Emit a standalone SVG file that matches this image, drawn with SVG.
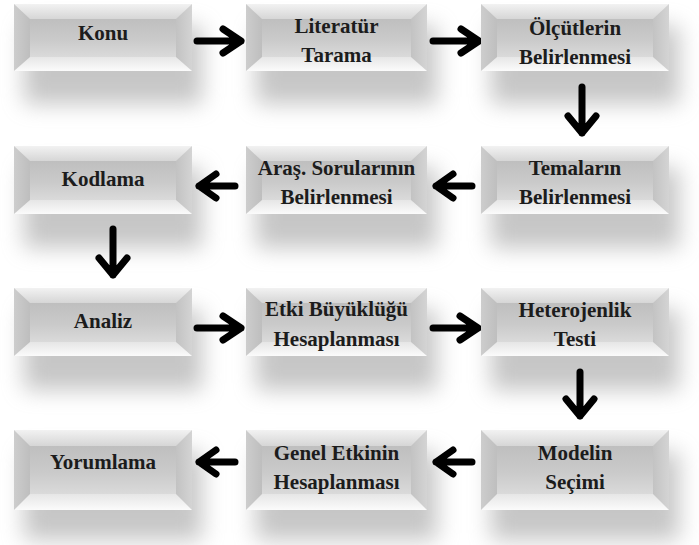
<svg xmlns="http://www.w3.org/2000/svg" width="699" height="545" viewBox="0 0 699 545">
<defs>
<filter id="sh" x="-30%" y="-40%" width="160%" height="180%"><feGaussianBlur stdDeviation="11"/></filter>
<linearGradient id="face" x1="0" y1="0" x2="0" y2="1"><stop offset="0" stop-color="#bfbfbf"/><stop offset="0.55" stop-color="#cacaca"/><stop offset="1" stop-color="#dadada"/></linearGradient>
<linearGradient id="lr" x1="0" y1="0" x2="1" y2="0"><stop offset="0" stop-color="#cdcdcd"/><stop offset="0.1" stop-color="#bcbcbc"/><stop offset="0.9" stop-color="#c0c0c0"/><stop offset="1" stop-color="#d4d4d4"/></linearGradient>
<linearGradient id="top" x1="0" y1="0" x2="0" y2="1"><stop offset="0" stop-color="#f2f2f2"/><stop offset="1" stop-color="#d6d6d6"/></linearGradient>
<linearGradient id="bot" x1="0" y1="0" x2="0" y2="1"><stop offset="0" stop-color="#e6e6e6"/><stop offset="1" stop-color="#fbfbfb"/></linearGradient>
</defs>
<style>
.shadow{fill:#8e8e8e;opacity:0.5;filter:url(#sh)}
.outer{fill:url(#lr)}
.tb{fill:url(#top)}
.bb{fill:url(#bot)}
.face{fill:url(#face)}
text{font-family:"Liberation Serif","Times New Roman",serif;font-weight:bold;font-size:21px;fill:#1c1c1c;text-anchor:middle}
.arr{fill:none;stroke:#000;stroke-width:7;stroke-linecap:round;stroke-linejoin:round}
</style>
<rect width="699" height="545" fill="#ffffff"/>

<g id="shadows">
<rect class="shadow" x="24" y="26" width="178" height="78"/>
<rect class="shadow" x="256" y="26" width="181" height="78"/>
<rect class="shadow" x="491" y="26" width="188" height="78"/>
<rect class="shadow" x="24" y="168" width="178" height="80"/>
<rect class="shadow" x="256" y="168" width="181" height="80"/>
<rect class="shadow" x="491" y="168" width="188" height="80"/>
<rect class="shadow" x="24" y="310" width="178" height="80"/>
<rect class="shadow" x="256" y="310" width="181" height="80"/>
<rect class="shadow" x="491" y="310" width="188" height="80"/>
<rect class="shadow" x="24" y="452" width="178" height="88"/>
<rect class="shadow" x="256" y="452" width="181" height="88"/>
<rect class="shadow" x="491" y="452" width="188" height="88"/>
</g>

<g id="connectors">
<path class="arr" d="M197 41H241M223 29L241 41L223 53"/>
<path class="arr" d="M433 41H479M461 29L479 41L461 53"/>
<path class="arr" d="M582 87V133M568 116L582 133L596 116"/>
<path class="arr" d="M472 186H436M453 174L436 186L453 198"/>
<path class="arr" d="M235 186H199M216 174L199 186L216 198"/>
<path class="arr" d="M113 229V275M99 258L113 275L127 258"/>
<path class="arr" d="M197 328H241M223 316L241 328L223 340"/>
<path class="arr" d="M433 328H478M460 316L478 328L460 340"/>
<path class="arr" d="M580 372V416M566 399L580 416L594 399"/>
<path class="arr" d="M472 462H436M453 450L436 462L453 474"/>
<path class="arr" d="M235 462H199M216 450L199 462L216 474"/>
</g>

<g id="konu">
<rect class="outer" x="14" y="4" width="178" height="67"/>
<polygon class="tb" points="14,4 192,4 176,19 30,19"/>
<polygon class="bb" points="14,71 30,57 176,57 192,71"/>
<rect class="face" x="30" y="19" width="146" height="38"/>
<text x="103" y="40">Konu</text>
</g>
<g id="literatur">
<rect class="outer" x="246" y="4" width="181" height="67"/>
<polygon class="tb" points="246,4 427,4 411,19 262,19"/>
<polygon class="bb" points="246,71 262,57 411,57 427,71"/>
<rect class="face" x="262" y="19" width="149" height="38"/>
<text x="336.5" y="33">Literatür</text>
<text x="336.5" y="62">Tarama</text>
</g>
<g id="olcutlerin">
<rect class="outer" x="481" y="4" width="188" height="67"/>
<polygon class="tb" points="481,4 669,4 653,19 497,19"/>
<polygon class="bb" points="481,71 497,57 653,57 669,71"/>
<rect class="face" x="497" y="19" width="156" height="38"/>
<text x="575" y="35">Ölçütlerin</text>
<text x="575" y="64">Belirlenmesi</text>
</g>

<g id="temalarin">
<rect class="outer" x="481" y="146" width="188" height="68"/>
<polygon class="tb" points="481,146 669,146 653,161 497,161"/>
<polygon class="bb" points="481,214 497,200 653,200 669,214"/>
<rect class="face" x="497" y="161" width="156" height="39"/>
<text x="575" y="175">Temaların</text>
<text x="575" y="204">Belirlenmesi</text>
</g>
<g id="aras">
<rect class="outer" x="246" y="146" width="181" height="68"/>
<polygon class="tb" points="246,146 427,146 411,161 262,161"/>
<polygon class="bb" points="246,214 262,200 411,200 427,214"/>
<rect class="face" x="262" y="161" width="149" height="39"/>
<text x="336.5" y="175">Araş. Sorularının</text>
<text x="336.5" y="204">Belirlenmesi</text>
</g>
<g id="kodlama">
<rect class="outer" x="14" y="146" width="178" height="68"/>
<polygon class="tb" points="14,146 192,146 176,161 30,161"/>
<polygon class="bb" points="14,214 30,200 176,200 192,214"/>
<rect class="face" x="30" y="161" width="146" height="39"/>
<text x="103" y="186">Kodlama</text>
</g>

<g id="analiz">
<rect class="outer" x="14" y="288" width="178" height="68"/>
<polygon class="tb" points="14,288 192,288 176,303 30,303"/>
<polygon class="bb" points="14,356 30,342 176,342 192,356"/>
<rect class="face" x="30" y="303" width="146" height="39"/>
<text x="103" y="328">Analiz</text>
</g>
<g id="etki">
<rect class="outer" x="246" y="288" width="181" height="68"/>
<polygon class="tb" points="246,288 427,288 411,303 262,303"/>
<polygon class="bb" points="246,356 262,342 411,342 427,356"/>
<rect class="face" x="262" y="303" width="149" height="39"/>
<text x="336.5" y="316">Etki Büyüklüğü</text>
<text x="336.5" y="346">Hesaplanması</text>
</g>
<g id="heterojenlik">
<rect class="outer" x="481" y="288" width="188" height="68"/>
<polygon class="tb" points="481,288 669,288 653,303 497,303"/>
<polygon class="bb" points="481,356 497,342 653,342 669,356"/>
<rect class="face" x="497" y="303" width="156" height="39"/>
<text x="575" y="317">Heterojenlik</text>
<text x="575" y="346">Testi</text>
</g>

<g id="modelin">
<rect class="outer" x="481" y="430" width="188" height="80"/>
<polygon class="tb" points="481,430 669,430 653,446 497,446"/>
<polygon class="bb" points="481,510 497,494 653,494 669,510"/>
<rect class="face" x="497" y="446" width="156" height="48"/>
<text x="575" y="460">Modelin</text>
<text x="575" y="489">Seçimi</text>
</g>
<g id="genel">
<rect class="outer" x="246" y="430" width="181" height="80"/>
<polygon class="tb" points="246,430 427,430 411,446 262,446"/>
<polygon class="bb" points="246,510 262,494 411,494 427,510"/>
<rect class="face" x="262" y="446" width="149" height="48"/>
<text x="336.5" y="460">Genel Etkinin</text>
<text x="336.5" y="489">Hesaplanması</text>
</g>
<g id="yorumlama">
<rect class="outer" x="14" y="430" width="178" height="80"/>
<polygon class="tb" points="14,430 192,430 176,446 30,446"/>
<polygon class="bb" points="14,510 30,494 176,494 192,510"/>
<rect class="face" x="30" y="446" width="146" height="48"/>
<text x="103" y="469">Yorumlama</text>
</g>
</svg>
